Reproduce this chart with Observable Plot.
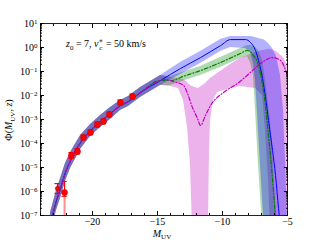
<!DOCTYPE html>
<html><head><meta charset="utf-8">
<script src="https://cdn.jsdelivr.net/npm/d3@7"></script>
<script src="https://cdn.jsdelivr.net/npm/@observablehq/plot@0.6"></script>
<style>
html,body{margin:0;padding:0;background:#fff;}
#chart{width:320px;height:240px;}
</style></head><body><div id="chart"></div>
<script>
// ---- data (M_UV, log10 Phi) ----
const sharedM    = [-23.23, -23.08, -22.77, -22.46, -22.08, -21.69, -20.92, -20.15, -19.38, -18.62, -17.85, -17.23, -16.31, -14.77];
const sharedLine = [-7.3, -7.0, -6.375, -5.875, -5.21, -4.71, -3.96, -3.46, -3.08, -2.75, -2.42, -2.25, -1.875, -1.375];
const sharedHi   = [-6.875, -6.58, -5.96, -5.46, -4.83, -4.375, -3.67, -3.21, -2.83, -2.5, -2.21, -2.04, -1.67, -1.17];
const sharedLo   = [-7.5, -7.5, -6.79, -6.29, -5.58, -5.04, -4.25, -3.71, -3.33, -3.0, -2.625, -2.46, -2.08, -1.58];

const blueM    = [-13.23, -11.69, -10.15, -9.38, -8.23, -7.85, -7.46, -7.23, -6.92, -6.69, -6.46, -6.15, -5.92, -5.69, -5.62];
const blueLine = [-0.875, -0.42, 0.08, 0.33, 0.33, 0.21, -0.125, -0.54, -1.29, -2.08, -3.04, -4.29, -5.33, -6.71, -7.08];
const blueBandM  = [-13.23, -11.69, -10.15, -9.38, -8.23, -7.85, -7.62, -7.46, -7.23, -6.92, -6.77, -6.46, -6.15, -5.85, -5.54, -5.31, -5.15, -5.0];
const blueBandHi = [-0.625, -0.17, 0.33, 0.46, 0.46, 0.46, 0.44, 0.42, 0.375, 0.33, 0.31, 0.17, -0.04, -0.375, -1.17, -2.625, -4.71, -7.2];
const blueBandLo = [-1.125, -0.67, -0.17, 0, -0.04, -0.21, -0.625, -1.375, -3.46, -6.375, -7.5, -7.5, -7.5, -7.5, -7.5, -7.5, -7.5, -7.5];

const greenM    = [-14.0, -12.85, -11.69, -10.15, -8.62, -8.08, -7.62, -7.23, -6.92, -6.69, -6.54, -6.31, -6.08, -5.92];
const greenLine = [-1.375, -1.17, -0.96, -0.625, -0.25, -0.125, -0.33, -0.75, -1.58, -2.42, -3.25, -4.5, -5.96, -7.08];
const greenBandM  = [-14.0, -12.85, -11.69, -10.15, -8.62, -8.08, -7.85, -7.62, -7.46, -7.23, -6.92, -6.69, -6.46, -6.31, -6.08, -5.85, -5.54, -5.0];
const greenBandHi = [-1.21, -1.0, -0.79, -0.42, -0.04, 0.083, 0.083, 0.04, 0, -0.125, -0.54, -1.375, -2.42, -3.04, -4.92, -7.0, -7.5, -7.5];
const greenBandLo = [-1.58, -1.375, -1.17, -0.83, -0.46, -0.375, -0.625, -1.17, -2.625, -4.92, -7.5, -7.5, -7.5, -7.5, -7.5, -7.5, -7.5, -7.5];

const magentaM    = [-14.38, -13.77, -13.0, -12.69, -12.31, -11.92, -11.69, -11.31, -10.92, -9.92, -8.85, -7.85, -7.08, -6.15, -5.54, -5.0];
const magentaLine = [-1.33, -1.42, -1.58, -1.92, -2.5, -2.96, -3.25, -2.83, -2.42, -1.875, -1.5, -1.04, -0.67, -0.42, -0.54, -1.17];
const magentaBandM  = [-14.0, -13.38, -13.0, -12.69, -12.46, -12.31, -11.85, -11.31, -11.08, -11.0, -10.92, -10.69, -10.38, -9.38, -8.62, -7.46, -6.92, -6.69, -6.46, -6.31, -5.92, -5.31, -5.0];
const magentaBandHi = [-1.25, -1.29, -1.33, -1.46, -1.58, -1.625, -1.71, -1.5, -1.375, -1.33, -1.29, -1.21, -1.08, -0.71, -0.46, -0.21, -0.125, -0.1, -0.08, -0.08, -0.15, -0.42, -0.75];
const magentaBandLo = [-1.625, -1.71, -2.21, -3.33, -4.92, -7.5, -7.5, -7.5, -7.5, -4.29, -3.04, -2.21, -1.875, -1.71, -1.625, -1.71, -2.0, -3.46, -5.54, -7.5, -7.5, -7.5, -7.5];

// observed points
const obsM   = [-22.69, -22.15, -21.62, -21.15, -20.69, -20.15, -19.62, -19.15, -18.69, -17.85, -16.92];
const obsLog = [-5.875, -6.04, -4.5, -4.33, -3.75, -3.54, -3.21, -3.08, -2.79, -2.29, -2.04];
const obsHi  = [-5.67, -5.58, -4.38, -4.22, -3.65, -3.44, -3.11, -2.98, -2.69, -2.19, -1.94];
const obsLo  = [-6.08, -6.2, -4.62, -4.44, -3.85, -3.64, -3.31, -3.18, -2.89, -2.39, -2.14];
const obsR   = [2, 3.5, 3.5, 3.5, 3.5, 3.5, 3.5, 3.5, 3.5, 3.5, 3.5];
const lowerLimitM = [-22.15];
const lowerLimitFrom = [-6.04];

// ticks
const xMajor = [-20, -15, -10, -5];
const xMinor = d3.range(-24, -4, 1);
const yExp = [-7, -6, -5, -4, -3, -2, -1, 0, 1];
const yMinor = yExp.slice(0, -1).flatMap(e => d3.range(2, 10).map(k => k * 10 ** e));

// ---- build tables ----
const P = v => 10 ** v;
const lineOf = (M, L) => M.map((m, i) => ({M: m, v: P(L[i])}));
const bandOf = (M, lo, hi) => M.map((m, i) => ({M: m, lo: P(lo[i]), hi: P(hi[i])}));
const blue = lineOf(sharedM.concat(blueM), sharedLine.concat(blueLine));
const green = lineOf(sharedM.concat(greenM), sharedLine.concat(greenLine));
const magenta = lineOf(sharedM.concat(magentaM), sharedLine.concat(magentaLine));
const blueBand = bandOf(sharedM.concat(blueBandM), sharedLo.concat(blueBandLo), sharedHi.concat(blueBandHi));
const greenBand = bandOf(sharedM.concat(greenBandM), sharedLo.concat(greenBandLo), sharedHi.concat(greenBandHi));
const magentaBand = bandOf(sharedM.concat(magentaBandM), sharedLo.concat(magentaBandLo), sharedHi.concat(magentaBandHi));
const obs = obsM.map((m, i) => ({M: m, v: P(obsLog[i]), hi: P(obsHi[i]), lo: P(obsLo[i]), r: obsR[i]}));
const lim = lowerLimitM.map((m, i) => ({M: m, v: P(lowerLimitFrom[i])}));

const font = "'Liberation Serif','DejaVu Serif',serif";
const chart = Plot.plot({
  width: 320, height: 240,
  marginLeft: 40, marginRight: 33, marginTop: 23, marginBottom: 25,
  style: {fontFamily: font, fontSize: "10px", background: "white", color: "black"},
  x: {domain: [-24, -5]},
  y: {type: "log", domain: [1e-7, 10]},
  marks: [
    Plot.areaY(magentaBand, {x: "M", y1: "lo", y2: "hi", fill: "#bf00bf", fillOpacity: 0.3, clip: true}),
    Plot.areaY(greenBand, {x: "M", y1: "lo", y2: "hi", fill: "#008000", fillOpacity: 0.3, clip: true}),
    Plot.areaY(blueBand, {x: "M", y1: "lo", y2: "hi", fill: "#0000ff", fillOpacity: 0.3, clip: true}),
    Plot.line(blue, {x: "M", y: "v", stroke: "#0000ff", strokeWidth: 1, curve: "monotone-x", clip: true}),
    Plot.line(green, {x: "M", y: "v", stroke: "#008000", strokeWidth: 1.2, strokeDasharray: "4,2,1,2", curve: "monotone-x", clip: true}),
    Plot.line(magenta, {x: "M", y: "v", stroke: "#bf00bf", strokeWidth: 1.2, strokeDasharray: "4,2,1,2", curve: "monotone-x", clip: true}),
    Plot.ruleX(lim, {x: "M", y1: 1e-8, y2: "v", stroke: "#ff0000", strokeOpacity: 0.45, strokeWidth: 2, clip: true}),
    Plot.ruleX(obs, {x: "M", y1: "lo", y2: "hi", stroke: "#ff0000", strokeWidth: 1.2}),
    Plot.ruleY(obs, {y: "hi", x1: d => d.M - 0.2, x2: d => d.M + 0.2, stroke: "#ff0000", strokeWidth: 1.2}),
    Plot.ruleY(obs, {y: "lo", x1: d => d.M - 0.2, x2: d => d.M + 0.2, stroke: "#ff0000", strokeWidth: 1.2}),
    Plot.dot(obs, {x: "M", y: "v", r: "r", fill: "#ff0000", stroke: "#c00000", strokeWidth: 0.5}),
    Plot.frame({stroke: "#222"}),
    Plot.axisX({anchor: "bottom", ticks: xMinor, tickSize: -2, tickFormat: () => "", label: null}),
    Plot.axisX({anchor: "top", ticks: xMinor, tickSize: -2, tickFormat: () => "", label: null}),
    Plot.axisX({anchor: "bottom", ticks: xMajor, tickSize: -4, tickPadding: 6, tickFormat: d => "\u2212" + Math.abs(d), label: null}),
    Plot.axisX({anchor: "top", ticks: xMajor, tickSize: -4, tickFormat: () => "", label: null}),
    Plot.axisY({anchor: "left", ticks: yMinor, tickSize: -2, tickFormat: () => "", label: null}),
    Plot.axisY({anchor: "right", ticks: yMinor, tickSize: -2, tickFormat: () => "", label: null}),
    Plot.axisY({anchor: "left", ticks: yExp.map(P), tickSize: -4, tickPadding: 7, tickFormat: d => "10^" + Math.round(Math.log10(d)), label: null}),
    Plot.axisY({anchor: "right", ticks: yExp.map(P), tickSize: -4, tickFormat: () => "", label: null})
  ]
});
document.getElementById("chart").appendChild(chart);

const svg = d3.select(chart);
svg.selectAll('g[aria-label="y-axis tick label"] text').each(function() {
  const t = d3.select(this);
  const s = t.text();
  if (!s.includes("^")) return;
  const [b, e] = s.split("^");
  t.text(null);
  t.append("tspan").text(b);
  t.append("tspan").attr("dy", "-0.45em").attr("font-size", "7px").text(e.replace("-", "\u2212"));
});
// y label
const yl = svg.append("text").attr("transform", "translate(12,120) rotate(-90)")
  .attr("text-anchor", "middle").attr("font-family", font).attr("font-size", "10px");
yl.append("tspan").text("\u03A6(");
yl.append("tspan").attr("font-style", "italic").text("M");
yl.append("tspan").attr("dy", 2.5).attr("font-size", "7px").text("UV");
yl.append("tspan").attr("dy", -2.5).text(", ");
yl.append("tspan").attr("font-style", "italic").text("z");
yl.append("tspan").text(")");
// x label
const xl = svg.append("text").attr("x", 162).attr("y", 237)
  .attr("text-anchor", "middle").attr("font-family", font).attr("font-size", "10px");
xl.append("tspan").attr("font-style", "italic").text("M");
xl.append("tspan").attr("dy", 2).attr("font-size", "7px").text("UV");
// annotation
const an = svg.append("text").attr("x", 66).attr("y", 47).attr("text-anchor", "start")
  .attr("font-family", font).attr("font-size", "10px");
an.append("tspan").attr("font-style", "italic").text("z");
an.append("tspan").attr("dy", 2.5).attr("font-size", "7px").text("0");
an.append("tspan").attr("dy", -2.5).text(" = 7, ");
an.append("tspan").attr("font-style", "italic").text("v");
an.append("tspan").attr("dy", -4).attr("font-size", "7px").text("\u2217");
an.append("tspan").attr("dx", -4).attr("dy", 6.5).attr("font-size", "7px").attr("font-style", "italic").text("c");
an.append("tspan").attr("dy", -2.5).attr("dx", 1).text(" = 50 km/s");
</script>
</body></html>
